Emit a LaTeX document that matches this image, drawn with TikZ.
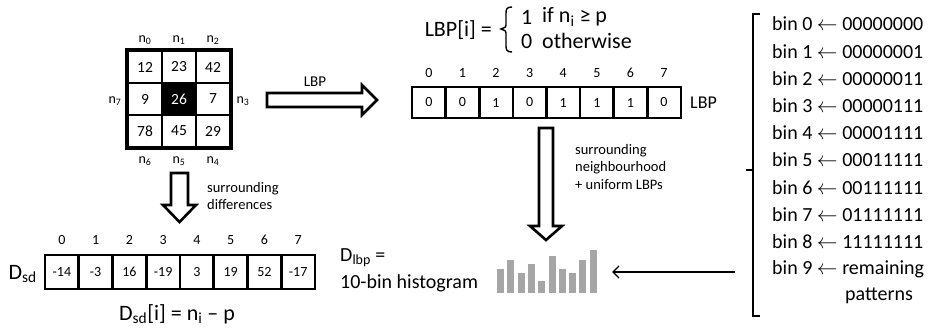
\documentclass[tikz,border=0pt]{standalone}
\usepackage{fontspec}
\setmainfont{Carlito}
\usetikzlibrary{arrows.meta}
\definecolor{barGray}{HTML}{A6A6A6}
\begin{document}
\begin{tikzpicture}[x=1pt,y=-1pt,
 cell/.style={draw, line width=2.6pt, minimum width=34pt, minimum height=32pt, inner sep=0, font=\fontsize{15.5}{17}\selectfont},
 acell/.style={draw, line width=2.6pt, minimum width=33.6pt, minimum height=31pt, inner sep=0, font=\fontsize{14}{16}\selectfont},
 idx/.style={font=\fontsize{14}{16}\selectfont, inner sep=0},
 big/.style={font=\fontsize{20}{22}\selectfont, inner sep=0},
 fbig/.style={font=\fontsize{22}{24}\selectfont, inner sep=0},
 note/.style={font=\fontsize{14.5}{17.5}\selectfont, align=left, inner sep=0},
 blockarrow/.style={draw, line width=2.6pt, fill=white, line join=miter},
 thinarrow/.style={line width=1.3pt, -{Straight Barb[length=6pt,width=12pt,line width=1.3pt]}}
]
\useasboundingbox (0,0) rectangle (933,327);

% ---------- 3x3 neighbourhood ----------
\node[cell] (g00) at (145,67) {12};
\node[cell] (g01) at (179,67) {23};
\node[cell] (g02) at (213,67) {42};
\node[cell] (g10) at (145,99) {9};
\node[cell, fill=black, text=white] (g11) at (179,99) {26};
\node[cell] (g12) at (213,99) {7};
\node[cell] (g20) at (145,131) {78};
\node[cell] (g21) at (179,131) {45};
\node[cell] (g22) at (213,131) {29};
\draw[line width=3.4pt] (g00.north west) rectangle (g22.south east);

\node[idx] (n0) at (145,40) {n\textsubscript{0}};
\node[idx] (n1) at (179,40) {n\textsubscript{1}};
\node[idx] (n2) at (213,40) {n\textsubscript{2}};
\node[idx] (n7) at (115,101) {n\textsubscript{7}};
\node[idx] (n3) at (243,101) {n\textsubscript{3}};
\node[idx] (n6) at (145,161) {n\textsubscript{6}};
\node[idx] (n5) at (179,161) {n\textsubscript{5}};
\node[idx] (n4) at (213,161) {n\textsubscript{4}};

% ---------- LBP block arrow ----------
\draw[blockarrow] (267,93) -- (362,93) -- (362,85) -- (377,100) -- (362,115) -- (362,107) -- (267,107) -- cycle;
\node[idx, font=\fontsize{15}{17}\selectfont] (lbparrowlabel) at (315,82) {LBP};

% ---------- LBP formula ----------
\node[fbig, anchor=east] (lbpi) at (492,30) {LBP[i] =};
\draw[line width=1.4pt] (512,7) .. controls (507,7) and (506,9) .. (506,13) -- (506,25) .. controls (506,27) .. (501,29) .. controls (506,31) .. (506,33) -- (506,46) .. controls (506,50) and (507,52) .. (512,52);
\node[fbig, anchor=west] (one) at (521,17) {1};
\node[fbig, anchor=west] (cond1) at (542,17) {if n\textsubscript{i} ≥ p};
\node[fbig, anchor=west] (zero) at (521,41) {0};
\node[fbig, anchor=west] (cond0) at (542,41) {otherwise};

% ---------- LBP array ----------
\foreach \v [count=\i from 0] in {0,0,1,0,1,1,1,0} {
  \node[acell] (l\i) at ({428.8+33.6*\i},102.5) {\v};
  \node[idx] (li\i) at ({428.8+33.6*\i},73) {\i};
}
\node[font=\fontsize{18}{20}\selectfont, inner sep=0, anchor=west] (lbplabel) at (690,103) {LBP};

% ---------- middle down arrow ----------
\draw[blockarrow] (539,128) -- (553,128) -- (553,226) -- (562,226) -- (546,240) -- (530,226) -- (539,226) -- cycle;
\node[note, anchor=north west] (note2) at (575,144) {surrounding\\neighbourhood\\+ uniform LBPs};

% ---------- histogram ----------
\foreach \h [count=\i from 0] in {24,33,20,29,12,37,24,20,33,43} {
  \fill[barGray] ({497+10.3*\i},293) rectangle ({504+10.3*\i},{293-\h});
}
\node[big, anchor=west] (dlbp) at (340,258) {D\textsubscript{lbp} =};
\node[big, anchor=west] (hist) at (340,283) {10-bin histogram};

% ---------- bins ----------
\draw[line width=1.4pt] (760,14) -- (753,14) -- (753,316) -- (760,316);
\draw[line width=1.4pt] (753,170) -- (746,170);
\foreach \b [count=\i from 0] in {00000000,00000001,00000011,00000111,00001111,00011111,00111111,01111111,11111111,remaining} {
  \node[big, anchor=west] (bin\i) at (772,{24+27.2*\i}) {bin \i\ $\leftarrow$ \b};
}
\node[big, anchor=west] (patt) at (845,296) {patterns};

\coordinate (binsrc) at (735,272);
\coordinate (histin) at (612,272);
\draw[thinarrow] (binsrc) -- (histin);

% ---------- surrounding differences ----------
\draw[blockarrow] (171,173) -- (188,173) -- (188,205) -- (196,205) -- (179.5,222) -- (163,205) -- (171,205) -- cycle;
\node[note, anchor=north west] (note1) at (207,182) {surrounding\\differences};

\foreach \v [count=\i from 0] in {-14,-3,16,-19,3,19,52,-17} {
  \node[acell, minimum height=34pt] (d\i) at ({61.9+33.75*\i},272) {\v};
  \node[idx] (di\i) at ({61.9+33.75*\i},240) {\i};
}
\node[fbig, anchor=east] (dsd) at (37,274) {D\textsubscript{sd}};
\node[fbig] (dsdformula) at (177,314) {D\textsubscript{sd}[i] = n\textsubscript{i} – p};
\end{tikzpicture}
\end{document}
